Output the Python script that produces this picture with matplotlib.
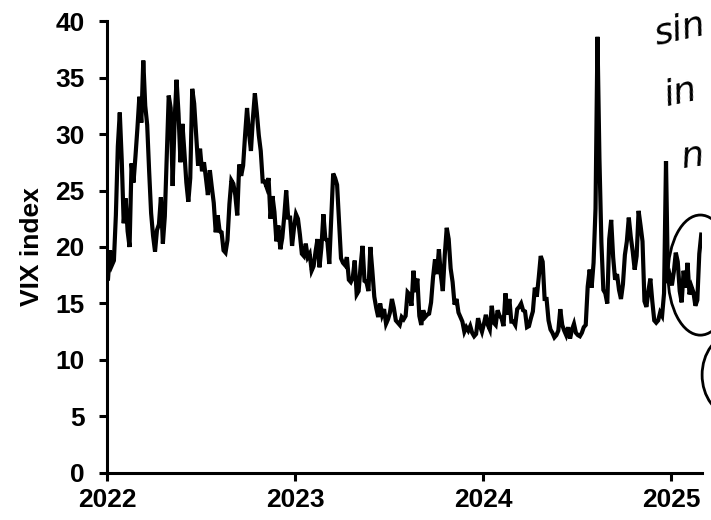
import numpy as np
import pandas as pd
import matplotlib
matplotlib.use('Agg')
import matplotlib.pyplot as plt
from matplotlib.patches import Ellipse

plt.rcParams['font.family'] = ['Liberation Sans', 'DejaVu Sans']
plt.rcParams['font.weight'] = 'bold'

# VIX readings, 8 per month
vix_2022 = [17.2, 19.7, 18.4, 18.8, 22.8, 28.9, 31.9, 27.7,
            22.1, 24.3, 21.4, 20.0, 27.4, 25.7, 28.0, 30.5,
            33.3, 31.0, 36.5, 32.5, 30.8, 26.7, 23.0, 21.0,
            19.6, 21.5, 22.0, 24.4, 20.3, 22.7, 28.2, 33.4,
            32.3, 25.4, 31.2, 34.8, 31.8, 27.5, 30.9, 28.4,
            25.7, 24.0, 26.1, 34.0, 32.7, 30.0, 27.2, 28.7,
            26.7, 27.5, 26.1, 24.6, 26.8, 25.3, 23.9, 21.3,
            22.8, 21.4, 21.3, 19.7, 19.5, 20.6, 23.8, 25.9,
            25.6, 24.6, 22.8, 27.3, 26.3, 27.2, 29.9, 32.3,
            30.1, 28.5, 31.4, 33.6, 31.9, 29.9, 28.5, 25.8,
            25.8, 25.3, 26.1, 22.5, 24.5, 23.1, 20.5, 21.9,
            19.8, 20.8, 22.7, 25.0, 22.6, 22.6, 20.1, 21.7]
vix_2023 = [22.9, 22.5, 21.1, 19.4, 19.2, 20.3, 19.1, 19.4,
            17.9, 18.3, 19.6, 20.7, 18.2, 20.0, 22.9, 20.7,
            20.6, 18.5, 22.6, 26.5, 26.1, 25.5, 22.3, 19.0,
            18.6, 18.4, 19.1, 17.1, 16.9, 17.3, 18.8, 15.8,
            16.1, 18.3, 20.1, 17.0, 16.9, 16.1, 20.0, 17.9,
            15.6, 14.6, 13.8, 15.0, 14.0, 14.5, 13.2, 13.6,
            14.2, 15.4, 14.6, 13.5, 13.3, 13.1, 13.8, 13.6,
            13.9, 16.0, 15.8, 14.8, 17.9, 16.0, 17.2, 13.9,
            13.1, 14.4, 13.8, 14.0, 14.1, 15.1, 17.3, 18.9,
            17.6, 19.8, 17.5, 16.1, 19.3, 21.7, 20.7, 18.1,
            16.9, 14.9, 15.4, 14.2, 13.8, 13.4, 12.5, 12.9,
            12.6, 13.0, 12.4, 12.1, 12.3, 13.7, 13.0, 12.5]
vix_2024 = [13.2, 14.0, 13.1, 12.7, 14.8, 13.3, 13.1, 14.4,
            13.9, 13.7, 13.0, 15.9, 14.0, 15.4, 13.4, 13.4,
            13.1, 14.5, 14.7, 15.0, 14.4, 14.3, 12.9, 13.0,
            13.7, 14.3, 16.4, 15.6, 17.3, 19.2, 18.7, 15.4,
            15.4, 13.5, 12.7, 12.4, 12.0, 12.2, 12.6, 14.5,
            13.1, 12.6, 12.2, 12.9, 11.9, 12.7, 13.2, 12.4,
            12.2, 12.1, 12.4, 12.9, 13.1, 16.5, 18.0, 16.4,
            18.6, 23.4, 38.6, 27.8, 20.4, 16.2, 15.9, 15.0,
            20.7, 22.4, 19.1, 17.1, 17.6, 16.2, 15.4, 16.7,
            19.3, 20.5, 22.6, 20.9, 19.6, 18.0, 19.2, 23.2,
            21.9, 20.5, 15.2, 14.7, 16.1, 17.2, 15.2, 13.5,
            13.3, 13.5, 14.2, 13.9, 15.9, 27.6, 16.8, 17.4]
vix_2025 = [16.6, 17.8, 19.5, 18.7, 16.1, 15.1, 17.9, 16.4,
            18.6, 15.8, 16.5, 16.0, 14.8, 15.3, 19.4, 21.1]

vix = np.array(vix_2022 + vix_2023 + vix_2024 + vix_2025)
dates = pd.date_range('2022-01-03', '2025-02-28', periods=len(vix))

fig = plt.figure(figsize=(7.11, 5.20), dpi=100)
ax = fig.add_axes([0.1505, 0.0904, 0.8365, 0.8692])

ax.plot(dates, vix, color='black', lw=3.0, solid_joinstyle='miter')

ax.set_ylim(0, 40)
ax.set_yticks(range(0, 41, 5))
ax.set_xlim(pd.Timestamp('2022-01-01'), pd.Timestamp('2025-03-01'))
ax.set_xticks([pd.Timestamp(f'{y}-01-01') for y in range(2022, 2026)])
ax.set_xticklabels(['2022', '2023', '2024', '2025'])
ax.set_ylabel('VIX index', fontsize=19, fontweight='bold', labelpad=8)

for s in ['top', 'right']:
    ax.spines[s].set_visible(False)
for s in ['left', 'bottom']:
    ax.spines[s].set_linewidth(2.2)
ax.tick_params(width=2.2, length=6, labelsize=19)
ax.tick_params(axis='y', pad=10)
ax.tick_params(axis='x', pad=5)
for lab in ax.get_xticklabels() + ax.get_yticklabels():
    lab.set_fontweight('bold')

# handwritten notes on the right edge
fig.text(0.915, 0.985, 'sin', fontsize=26, style='italic', family='DejaVu Sans',
         fontweight='normal', rotation=12, va='top')
fig.text(0.93, 0.86, 'in', fontsize=26, style='italic', family='DejaVu Sans',
         fontweight='normal', rotation=12, va='top')
fig.text(0.955, 0.735, 'n', fontsize=26, style='italic', family='DejaVu Sans',
         fontweight='normal', rotation=8, va='top')
fig.patches.append(Ellipse((0.985, 0.471), 0.091, 0.231, fill=False, lw=2,
                           color='black', transform=fig.transFigure))
fig.patches.append(Ellipse((1.03, 0.279), 0.085, 0.154, fill=False, lw=2,
                           color='black', transform=fig.transFigure))

fig.savefig('out.png', dpi=100)
